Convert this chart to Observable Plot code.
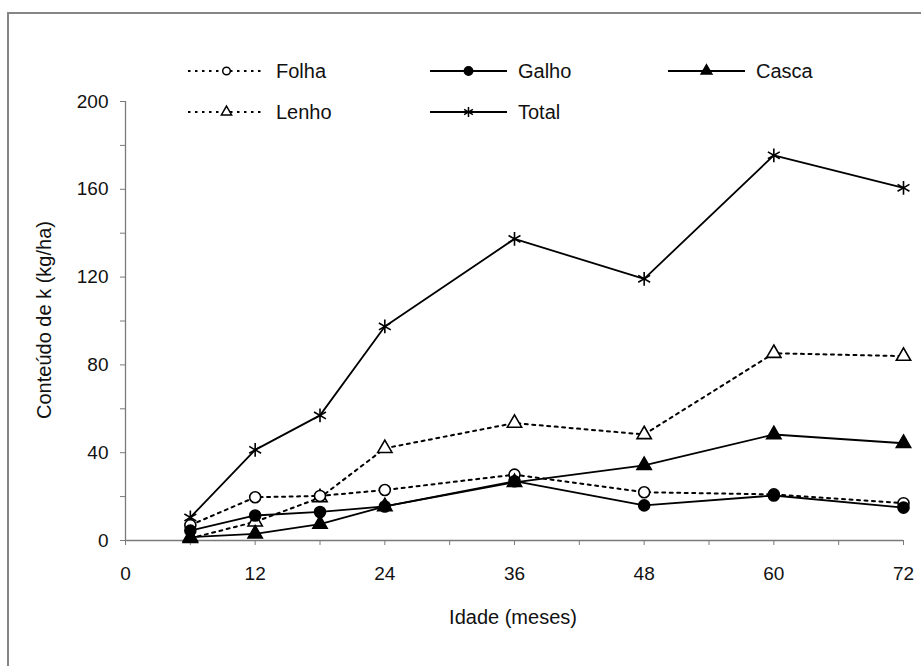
<!DOCTYPE html>
<html>
<head>
<meta charset="utf-8">
<script src="https://cdn.jsdelivr.net/npm/d3@7"></script>
<script src="https://cdn.jsdelivr.net/npm/@observablehq/plot@0.6"></script>
<style>
  html, body { margin: 0; padding: 0; background: #fff; }
  #wrap { position: relative; width: 921px; height: 666px; overflow: hidden;
          font-family: "Liberation Sans", Arial, sans-serif; color: #111; }
  #chart { position: absolute; left: 0; top: 0; width: 921px; height: 666px; }
  #chart svg { max-width: none !important; }
  #frame { position: absolute; left: 7px; top: 12px; width: 960px; height: 700px;
           border-top: 2px solid #858585; border-left: 2px solid #858585; pointer-events: none; }
  .legend-item { position: absolute; display: flex; align-items: center; height: 24px; font-size: 20px; }
  .legend-item svg { display: block; margin-right: 10px; }
  #xtitle { position: absolute; left: 513px; top: 617px; transform: translate(-50%, -50%);
            font-size: 20px; white-space: nowrap; }
  #ytitle { position: absolute; left: 44px; top: 320px; transform: translate(-50%, -50%) rotate(-90deg);
            font-size: 20px; white-space: nowrap; }
</style>
</head>
<body>
<div id="wrap">
  <div id="chart"></div>
  <div id="frame"></div>
  <div id="legend"></div>
  <div id="xtitle">Idade (meses)</div>
  <div id="ytitle">Conteúdo de k (kg/ha)</div>
</div>
<script>
// ---- Data ----
const months = [6, 12, 18, 24, 36, 48, 60, 72];
const folha  = [7, 19.7, 20.3, 23, 30, 22, 21, 17];
const galho  = [4.5, 11.4, 13, 15.5, 27, 16, 20.5, 15];
const casca  = [1.5, 3, 7.5, 15.5, 26.5, 34.2, 48.3, 44.3];
const lenho  = [1, 8.5, 19.5, 42, 53.5, 48.3, 85.3, 84];
const total  = [10.5, 41.3, 57, 97.5, 137.4, 119.2, 175.5, 160.7];

const xTicks = [0, 12, 24, 36, 48, 60, 72];
const xMinorTicks = [6, 18, 30, 42, 54, 66];
const yTicks = [0, 40, 80, 120, 160, 200];
const yMinorTicks = [20, 60, 100, 140, 180];

// series styling
const series = [
  {name: "Total", values: total, symbol: "asterisk", fill: "none", dash: null, r: 6.5, lr: 4.8},
  {name: "Lenho", values: lenho, symbol: "triangle", fill: "white", dash: "3,4.5", r: 5.3, lr: 3.8},
  {name: "Folha", values: folha, symbol: "circle", fill: "white", dash: "3,4.5", r: 5.5, lr: 3.8},
  {name: "Casca", values: casca, symbol: "triangle", fill: "black", dash: null, r: 5.3, lr: 4},
  {name: "Galho", values: galho, symbol: "circle", fill: "black", dash: null, r: 5.5, lr: 4.2}
];

const rows = s => months.map((m, i) => ({month: m, value: s.values[i], name: s.name}));

const marks = [
  Plot.ruleY([0], {stroke: "#7a7a7a", strokeWidth: 1.3}),
  Plot.ruleX([0], {stroke: "#7a7a7a", strokeWidth: 1.3}),
  Plot.axisX(xTicks, {label: null, tickSize: 5, tickPadding: 21, stroke: "#7a7a7a", fill: "#111"}),
  Plot.axisX(xMinorTicks, {label: null, tickSize: 5, tickFormat: () => "", stroke: "#7a7a7a"}),
  Plot.axisY(yTicks, {label: null, tickSize: 5, tickPadding: 12, stroke: "#7a7a7a", fill: "#111"}),
  Plot.axisY(yMinorTicks, {label: null, tickSize: 5, tickFormat: () => "", stroke: "#7a7a7a"})
];
for (const s of series) {
  marks.push(Plot.line(rows(s), {x: "month", y: "value", stroke: "black",
    strokeWidth: s.dash ? 2 : 1.8, strokeDasharray: s.dash ?? undefined}));
}
for (const s of series) {
  marks.push(Plot.dot(rows(s), {x: "month", y: "value", symbol: () => s.symbol, r: s.r,
    fill: s.fill, stroke: "black", strokeWidth: s.symbol === "asterisk" ? 1.6 : 1.6}));
}

const chart = Plot.plot({
  width: 921,
  height: 666,
  marginLeft: 125,
  marginRight: 18,
  marginTop: 101,
  marginBottom: 126,
  x: {domain: [0, 72], axis: null},
  y: {domain: [0, 200], axis: null},
  symbol: {type: "identity"},
  style: {fontFamily: "'Liberation Sans', Arial, sans-serif", fontSize: "19px", color: "#111", background: "none", maxWidth: "none"},
  marks
});
document.getElementById("chart").appendChild(chart);

// ---- Legend (HTML with small svg samples) ----
const legendLayout = [
  {name: "Folha", left: 187, top: 71},
  {name: "Galho", left: 429, top: 71},
  {name: "Casca", left: 667, top: 71},
  {name: "Lenho", left: 187, top: 112},
  {name: "Total", left: 429, top: 112}
];
const symbolMap = {circle: d3.symbolCircle, triangle: d3.symbolTriangle, asterisk: d3.symbolAsterisk};
const legend = d3.select("#legend");
for (const L of legendLayout) {
  const s = series.find(d => d.name === L.name);
  const item = legend.append("div").attr("class", "legend-item")
    .style("left", L.left + "px").style("top", (L.top - 12) + "px");
  const w = 79, h = 24;
  const svg = item.append("svg").attr("width", w).attr("height", h);
  svg.append("line").attr("x1", 1).attr("x2", w - 1).attr("y1", h / 2).attr("y2", h / 2)
    .attr("stroke", "black").attr("stroke-width", s.dash ? 1.8 : 1.8)
    .attr("stroke-dasharray", s.dash ? "2.5,4.5" : null);
  svg.append("path")
    .attr("d", d3.symbol(symbolMap[s.symbol], Math.PI * s.lr * s.lr)())
    .attr("transform", `translate(${w / 2},${h / 2})`)
    .attr("fill", s.fill).attr("stroke", "black").attr("stroke-width", 1.5);
  item.append("span").text(s.name);
}
</script>
</body>
</html>
